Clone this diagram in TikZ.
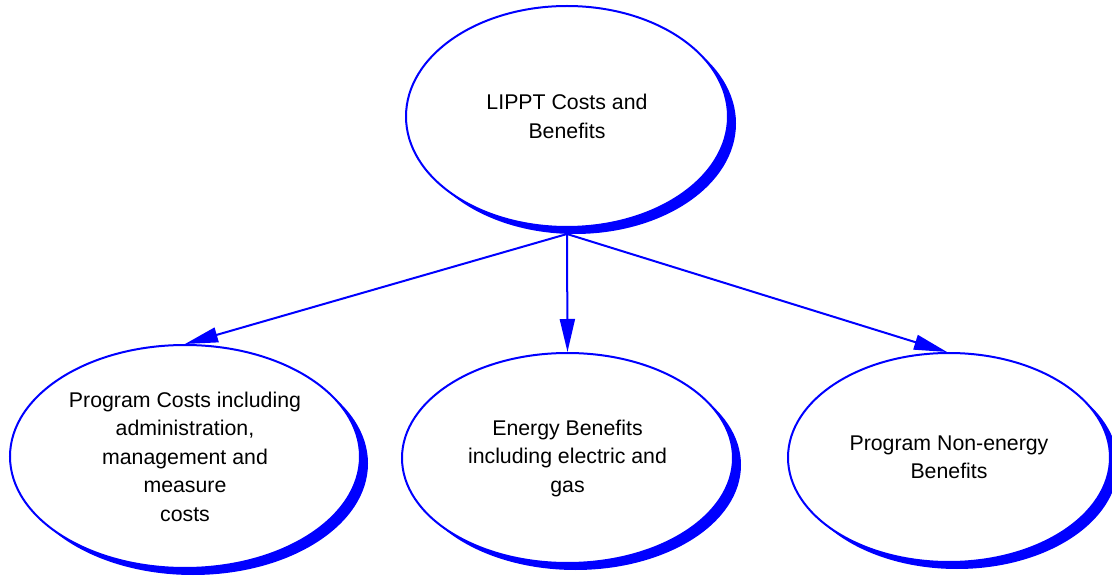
\documentclass[tikz,border=0pt]{standalone}
\usepackage{fontspec}
\setmainfont{Liberation Sans}
\usetikzlibrary{shapes.geometric,shadows,arrows.meta}
\definecolor{lineblue}{RGB}{0,0,255}
\tikzset{
  bubble/.style={ellipse, draw=lineblue, line width=2pt, fill=white, inner sep=0pt,
    align=center, text=black, font=\fontsize{21.3}{28.5}\selectfont,
    drop shadow={shadow xshift=8pt, shadow yshift=-7pt, fill=lineblue, opacity=1}},
  link/.style={draw=lineblue, line width=2pt, -{Triangle[length=33pt,width=15pt]}}
}
\begin{document}
\begin{tikzpicture}[x=1pt,y=-1pt]
\useasboundingbox (0,0) rectangle (1112,577);
\node[bubble, minimum width=322pt, minimum height=221pt] (top) at (567,116.5) {LIPPT Costs and\\Benefits};
\node[bubble, minimum width=350pt, minimum height=223pt] (cost) at (185,456.5) {Program Costs including\\administration,\\management and\\measure\\costs};
\node[bubble, minimum width=331pt, minimum height=210pt] (energy) at (567.5,458) {Energy Benefits\\including electric and\\gas};
\node[bubble, minimum width=322pt, minimum height=209pt] (nonen) at (949,457.5) {Program Non-energy\\Benefits};
\coordinate (hub) at ([yshift=-6pt]top.south);
\draw[link] (hub) -- (cost.north);
\draw[link] (hub) -- (energy.north);
\draw[link] (hub) -- ([xshift=-2pt]nonen.north);
\end{tikzpicture}
\end{document}
